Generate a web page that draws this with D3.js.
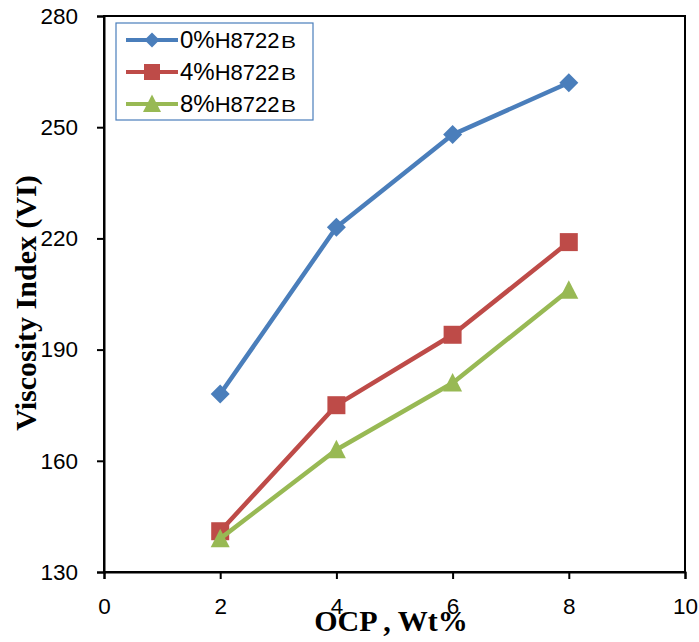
<!DOCTYPE html>
<html><head><meta charset="utf-8">
<script src="https://cdn.jsdelivr.net/npm/d3@7"></script>
<style>body{margin:0;background:#fff}</style>
</head><body><svg id="c" width="699" height="642"></svg>
<script>
const xValues = [2, 4, 6, 8];
const seriesNames = ["0%", "4%", "8%"];
const seriesSuffix = "H8722";
const seriesSuffixEnd = "B";
const vi0 = [178, 223, 248, 262];
const vi4 = [141, 175, 194, 219];
const vi8 = [139, 163, 181, 206];
const xTicks = [0, 2, 4, 6, 8, 10];
const yTicks = [130, 160, 190, 220, 250, 280];

const series = [
  {name: seriesNames[0], values: vi0, color: "#4A7EBB", marker: "diamond"},
  {name: seriesNames[1], values: vi4, color: "#BE4B48", marker: "square"},
  {name: seriesNames[2], values: vi8, color: "#98B954", marker: "triangle"}
];

const svg = d3.select("#c");
const L = 104, R = 685, T = 16, B = 572;
const x = d3.scaleLinear().domain([0, 10]).range([L, R]);
const y = d3.scaleLinear().domain([130, 280]).range([B, T]);

// frame
svg.append("rect").attr("x", L).attr("y", T).attr("width", R - L).attr("height", B - T)
  .attr("fill", "none").attr("stroke", "#000").attr("stroke-width", 2);

const xa = svg.append("g").attr("transform", `translate(0,${B})`)
  .call(d3.axisBottom(x).tickValues(xTicks).tickSize(7).tickPadding(19).tickFormat(d3.format("d")));
const ya = svg.append("g").attr("transform", `translate(${L},0)`)
  .call(d3.axisLeft(y).tickValues(yTicks).tickSize(7).tickPadding(19).tickFormat(d3.format("d")));
[xa, ya].forEach(a => {
  a.select(".domain").attr("stroke", "#000").attr("stroke-width", 2);
  a.selectAll(".tick line").attr("stroke", "#000").attr("stroke-width", 2);
  a.selectAll(".tick text").attr("font-family", "Liberation Sans, Arial, sans-serif")
    .attr("font-size", 22.5).attr("fill", "#000");
});

function markerPath(m, s) {
  if (m === "diamond") return `M0,${-s}L${s},0L0,${s}L${-s},0Z`;
  if (m === "square") return `M${-s},${-s}H${s}V${s}H${-s}Z`;
  return `M0,${-s * 1.05}L${s},${s * 0.9}H${-s}Z`;
}
const chartSize = {diamond: 9.5, square: 9, triangle: 9.5};
const legendSize = {diamond: 7.5, square: 8, triangle: 9};

const line = d3.line().x((d, i) => x(xValues[i])).y(d => y(d));
series.forEach(s => {
  svg.append("path").datum(s.values).attr("d", line).attr("fill", "none")
    .attr("stroke", s.color).attr("stroke-width", 4.5).attr("stroke-linejoin", "round");
  svg.selectAll(null).data(s.values).enter().append("path")
    .attr("d", markerPath(s.marker, chartSize[s.marker]))
    .attr("transform", (d, i) => `translate(${x(xValues[i])},${y(d)})`)
    .attr("fill", s.color);
});

// legend
const lg = svg.append("g");
lg.append("rect").attr("x", 116).attr("y", 23).attr("width", 197).attr("height", 97)
  .attr("fill", "#fff").attr("stroke", "#4A7EBB").attr("stroke-width", 1.2);
series.forEach((s, i) => {
  const cy = 40 + i * 32;
  lg.append("line").attr("x1", 126).attr("x2", 178).attr("y1", cy).attr("y2", cy)
    .attr("stroke", s.color).attr("stroke-width", 4);
  lg.append("path").attr("d", markerPath(s.marker, legendSize[s.marker]))
    .attr("transform", `translate(152,${cy})`).attr("fill", s.color);
  const t = lg.append("text").attr("x", 180).attr("y", cy + 7.5)
    .attr("font-family", "Liberation Sans, Arial, sans-serif").attr("fill", "#000");
  t.append("tspan").attr("font-size", 24).text(s.name);
  t.append("tspan").attr("font-size", 22).text(seriesSuffix);
  t.append("tspan").attr("font-size", 17).attr("dx", 1.5).text(seriesSuffixEnd)
    .attr("textLength", 15).attr("lengthAdjust", "spacingAndGlyphs");
});

// axis titles
svg.append("text").attr("x", 391).attr("y", 631).attr("text-anchor", "middle")
  .attr("font-family", "Liberation Serif, Times New Roman, serif").attr("font-weight", "bold")
  .attr("font-size", 30).text("OCP , Wt%");
svg.append("text").attr("transform", "translate(36,303) rotate(-90)").attr("text-anchor", "middle")
  .attr("font-family", "Liberation Serif, Times New Roman, serif").attr("font-weight", "bold")
  .attr("font-size", 30).text("Viscosity Index (VI)");
</script></body></html>
